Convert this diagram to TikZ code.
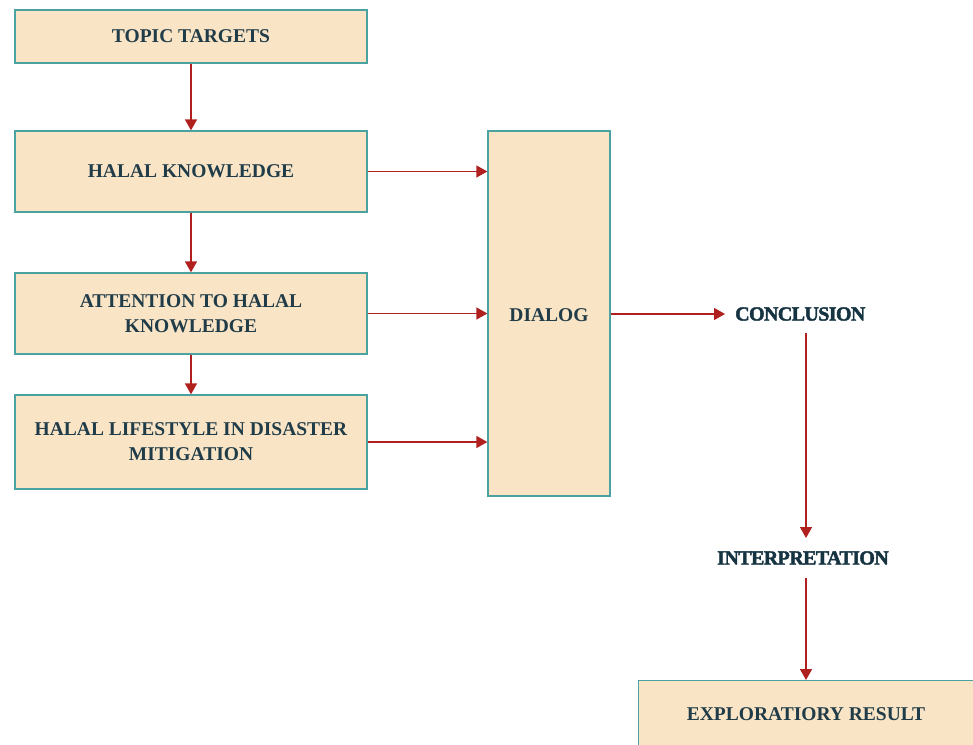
\documentclass[tikz,border=0pt]{standalone}
\usepackage{fontspec}
\setmainfont{Liberation Serif}
\usetikzlibrary{arrows.meta}
\definecolor{boxfill}{HTML}{FAE4C6}
\definecolor{boxline}{HTML}{4AA3A0}
\definecolor{arr}{HTML}{B0201E}
\definecolor{txt}{HTML}{1F3C48}
\definecolor{txtdark}{HTML}{153340}
\begin{document}
\begin{tikzpicture}[x=1pt,y=-1pt,
  box/.style={draw=boxline,line width=1.3pt,fill=boxfill,text=txt,font=\fontsize{19.5}{25}\selectfont\bfseries,align=center,inner sep=0pt},
  btxt/.style={text=txt,font=\fontsize{19.5}{25}\selectfont\bfseries,inner sep=0pt},
  lbl/.style={text=txtdark,font=\fontsize{20}{24}\selectfont\bfseries\addfontfeature{FakeBold=2,LetterSpace=-3},inner sep=0pt},
  conn/.style={draw=arr,line width=1.4pt,-{Triangle[length=11pt,width=12pt]}}]
\clip (0,0) rectangle (973,744);
\useasboundingbox (0,0) rectangle (973,744);
\node[box,minimum width=352pt,minimum height=53pt] (tt) at (191,36.5) {TOPIC TARGETS};
\node[box,minimum width=352pt,minimum height=81pt] (hk) at (191,171.5) {HALAL KNOWLEDGE};
\node[box,minimum width=352pt,minimum height=81pt] (at) at (191,313.5) {ATTENTION TO HALAL\\KNOWLEDGE};
\node[box,minimum width=352pt,minimum height=94pt] (hl) at (191,442) {HALAL LIFESTYLE IN DISASTER\\MITIGATION};
\node[box,minimum width=122pt,minimum height=365pt] (dl) at (549,313.5) {};
\node[btxt] (dlt) at (549,315) {DIALOG};
\node[lbl,anchor=west] (cc) at (735,314) {CONCLUSION};
\node[lbl] (ip) at (803,558) {INTERPRETATION};
\node[box,minimum width=340pt,minimum height=80pt,anchor=north west] (er) at (638,680) {};
\node[btxt] (ert) at (806,714) {EXPLORATIORY RESULT};
\coordinate (c0) at (725,314);
\coordinate (c1) at (806,333);
\coordinate (c2) at (806,538);
\coordinate (c3) at (806,578);
\coordinate (c4) at (806,680);
\draw[conn] (tt.south) -- (hk.north);
\draw[conn] (hk.south) -- (at.north);
\draw[conn] (at.south) -- (hl.north);
\draw[conn] (hk.east) -- (hk.east -| dl.west);
\draw[conn] (at.east) -- (at.east -| dl.west);
\draw[conn] (hl.east) -- (hl.east -| dl.west);
\draw[conn] (dl.east |- c0) -- (c0);
\draw[conn] (c1) -- (c2);
\draw[conn] (c3) -- (c4);
\end{tikzpicture}
\end{document}
